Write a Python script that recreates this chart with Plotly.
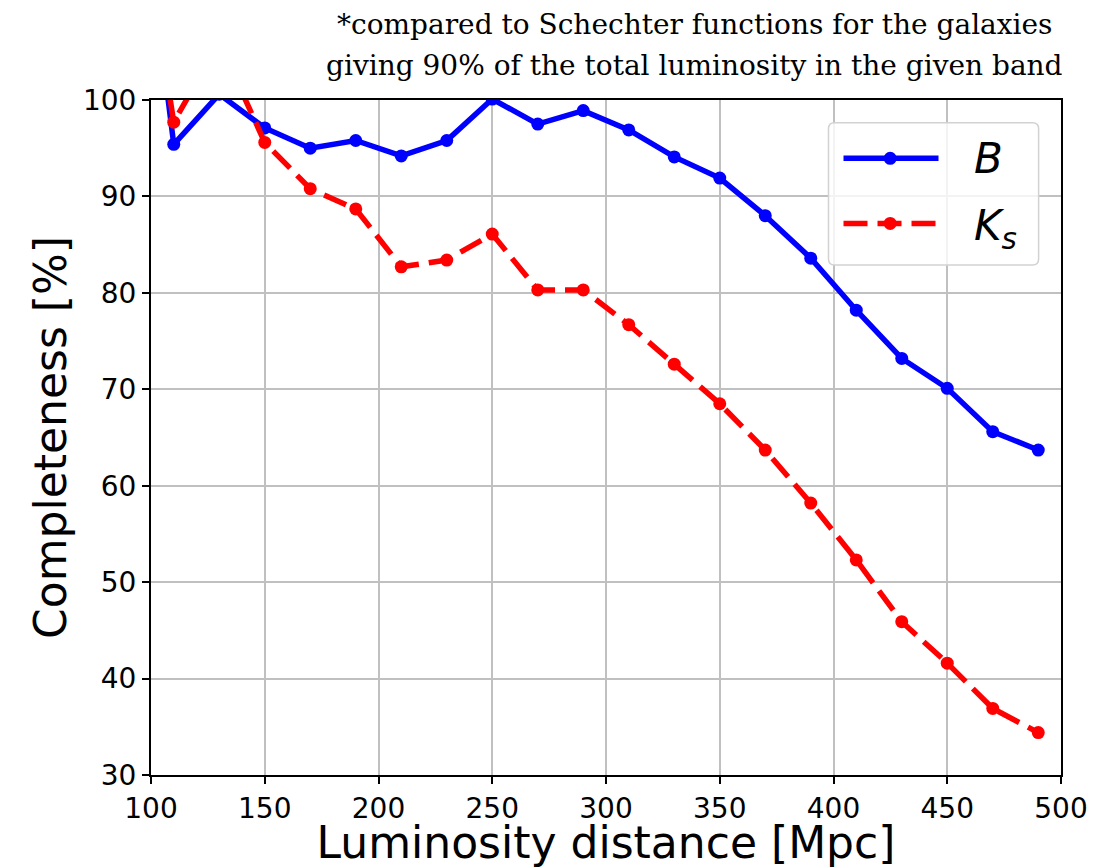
import plotly.graph_objects as go

# Luminosity distance bins [Mpc] and completeness [%] per band
distance_mpc = [90, 110, 130, 150, 170, 190, 210, 230, 250, 270, 290,
                310, 330, 350, 370, 390, 410, 430, 450, 470, 490]
completeness_b = [133, 95.4, 100.6, 97.1, 95.0, 95.8, 94.2, 95.8, 100.1, 97.5, 98.9,
                  96.9, 94.1, 91.9, 88.0, 83.6, 78.2, 73.2, 70.1, 65.6, 63.7]
completeness_ks = [128, 97.7, 106.0, 95.6, 90.8, 88.7, 82.7, 83.4, 86.1, 80.3, 80.3,
                   76.7, 72.6, 68.5, 63.7, 58.2, 52.3, 45.9, 41.6, 36.9, 34.4]

x_ticks = [100, 150, 200, 250, 300, 350, 400, 450, 500]
y_ticks = [30, 40, 50, 60, 70, 80, 90, 100]

BLUE = "#0000ff"
RED = "#ff0000"
LW = 5.5
MS = 13
DASH = "24px,10px"

fig = go.Figure()
fig.add_trace(go.Scatter(
    x=distance_mpc, y=completeness_b, mode="lines+markers",
    line=dict(color=BLUE, width=LW),
    marker=dict(color=BLUE, size=MS),
    showlegend=False, cliponaxis=True,
))
fig.add_trace(go.Scatter(
    x=distance_mpc, y=completeness_ks, mode="lines+markers",
    line=dict(color=RED, width=LW, dash=DASH),
    marker=dict(color=RED, size=MS),
    showlegend=False, cliponaxis=True,
))

# Hand-built legend box in paper coordinates
W, H = 909.4, 674.5
lx0, lx1, ly0, ly1 = 0.7445, 0.9754, 0.7554, 0.9664
rx, ry = 6 / W, 6 / H
legend_path = (
    f"M{lx0+rx},{ly0} L{lx1-rx},{ly0} Q{lx1},{ly0} {lx1},{ly0+ry} "
    f"L{lx1},{ly1-ry} Q{lx1},{ly1} {lx1-rx},{ly1} "
    f"L{lx0+rx},{ly1} Q{lx0},{ly1} {lx0},{ly1-ry} "
    f"L{lx0},{ly0+ry} Q{lx0},{ly0} {lx0+rx},{ly0} Z"
)
shapes = [dict(type="path", path=legend_path, xref="paper", yref="paper",
               fillcolor="rgba(255,255,255,0.8)", line=dict(color="#d2d2d2", width=1.5),
               layer="above")]

seg_x0, seg_x1, mark_x = 0.7610, 0.8654, 0.8123
mrx, mry = (MS / 2) / W, (MS / 2) / H
for yy, col, dash in [(0.9136, BLUE, "solid"), (0.8172, RED, DASH)]:
    shapes.append(dict(type="line", xref="paper", yref="paper",
                       x0=seg_x0, x1=seg_x1, y0=yy, y1=yy,
                       line=dict(color=col, width=LW, dash=dash), layer="above"))
    shapes.append(dict(type="circle", xref="paper", yref="paper",
                       x0=mark_x - mrx, x1=mark_x + mrx, y0=yy - mry, y1=yy + mry,
                       fillcolor=col, line=dict(color=col, width=0), layer="above"))

annotations = [
    dict(text="<i>B</i>", x=0.9021, y=0.9136, xref="paper", yref="paper",
         xanchor="left", yanchor="middle", showarrow=False,
         font=dict(family="DejaVu Sans", size=42, color="black")),
    dict(text="<i>K</i><sub><i>s</i></sub>", x=0.9021, y=0.8100, xref="paper", yref="paper",
         xanchor="left", yanchor="middle", showarrow=False,
         font=dict(family="DejaVu Sans", size=42, color="black")),
    dict(text="*compared to Schechter functions for the galaxies",
         x=0.597, y=1.112, xref="paper", yref="paper",
         xanchor="center", yanchor="middle", showarrow=False,
         font=dict(family="DejaVu Serif", size=28, color="black")),
    dict(text="giving 90% of the total luminosity in the given band",
         x=0.597, y=1.051, xref="paper", yref="paper",
         xanchor="center", yanchor="middle", showarrow=False,
         font=dict(family="DejaVu Serif", size=28, color="black")),
]

axis_common = dict(
    showline=True, linecolor="black", linewidth=2, mirror=True,
    ticks="outside", ticklen=7, tickwidth=2, tickcolor="black",
    showgrid=True, gridcolor="#c0c0c0", gridwidth=1.6,
    zeroline=False, automargin=False,
    tickfont=dict(family="DejaVu Sans", size=28, color="black"),
)

fig.update_layout(
    width=1113, height=868,
    margin=dict(l=151, r=52, t=100, b=93, pad=0),
    paper_bgcolor="white", plot_bgcolor="white",
    shapes=shapes, annotations=annotations,
    xaxis=dict(range=[100, 500], tickvals=x_ticks,
               title=dict(text="Luminosity distance [Mpc]",
                          font=dict(family="DejaVu Sans", size=44, color="black"),
                          standoff=3),
               **axis_common),
    yaxis=dict(range=[30, 100], tickvals=y_ticks,
               title=dict(text="Completeness [%]",
                          font=dict(family="DejaVu Sans", size=44, color="black"),
                          standoff=3),
               **axis_common),
)

fig.write_html("out.html")
